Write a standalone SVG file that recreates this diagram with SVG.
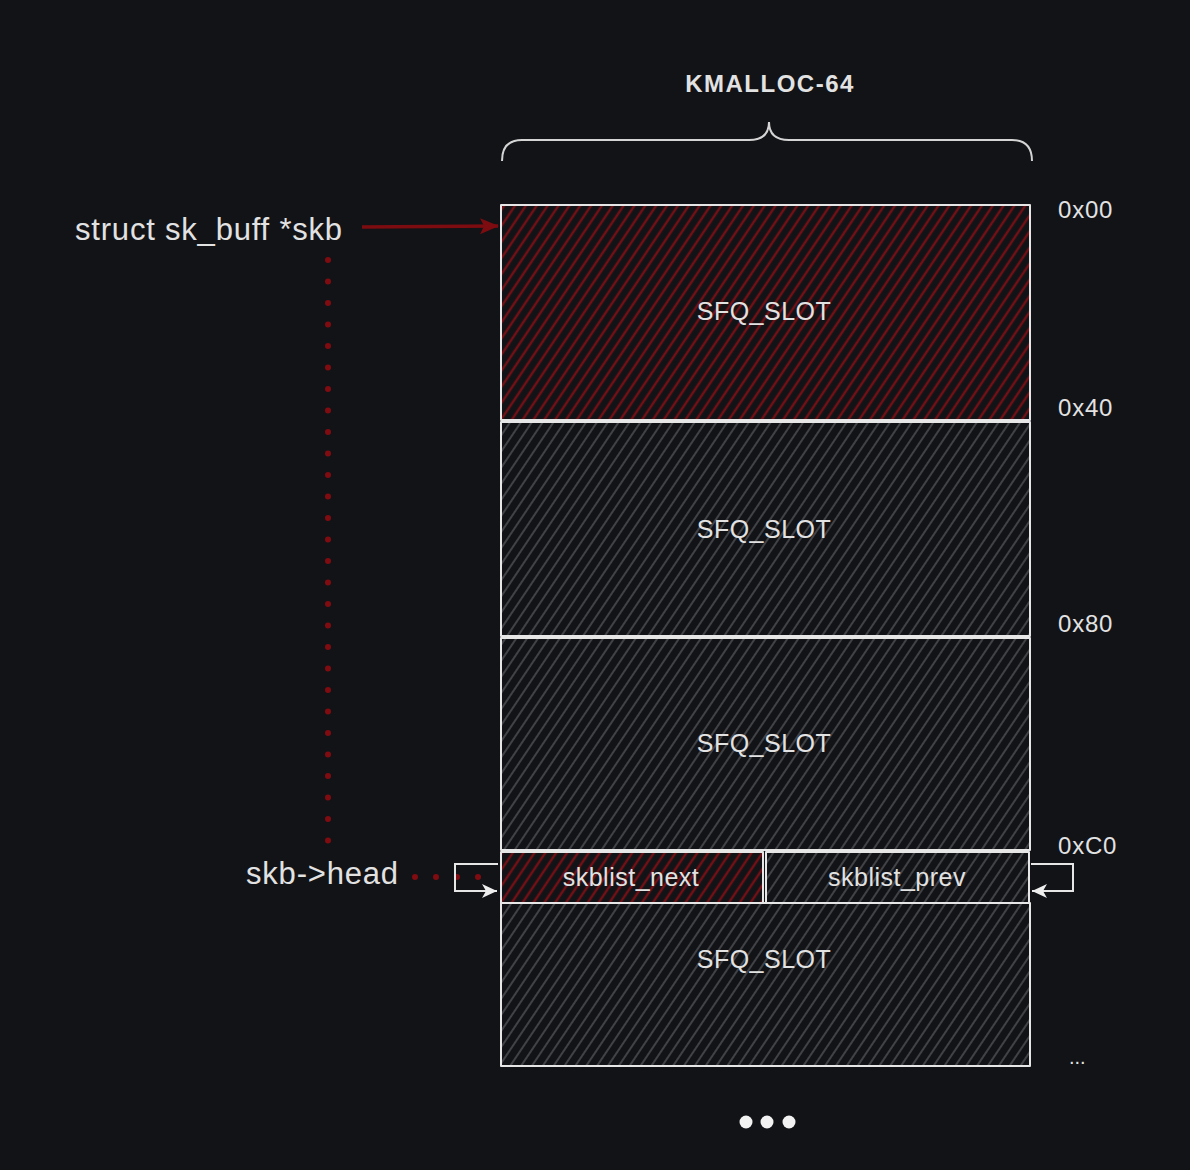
<svg xmlns="http://www.w3.org/2000/svg" width="1190" height="1170" viewBox="0 0 1190 1170">
<defs>
<style>
.t{font-family:"Liberation Sans",Arial,sans-serif;fill:#e2e2e2}
.slot{stroke:#e6e6e6;stroke-width:2;stroke-linejoin:round}
.lbl{font-size:25px;letter-spacing:0.5px;text-anchor:middle}
.off{font-size:24px;letter-spacing:0.8px}
.big{font-size:31px;letter-spacing:0.8px}
.red{fill:url(#hr)}
.gray{fill:url(#hg)}
</style>
<pattern id="hr" width="9" height="9" patternUnits="userSpaceOnUse" patternTransform="rotate(34)">
<line x1="2" y1="0" x2="2" y2="9" stroke="#741015" stroke-width="2.4"/>
</pattern>
<pattern id="hg" width="9" height="9" patternUnits="userSpaceOnUse" patternTransform="rotate(34)">
<line x1="2" y1="0" x2="2" y2="9" stroke="#46474a" stroke-width="1.8"/>
</pattern>
<marker id="ar" viewBox="0 0 20 20" refX="18" refY="10" markerWidth="20" markerHeight="20" markerUnits="userSpaceOnUse" orient="auto">
<path d="M0,2 L19,10 L0,18 L4,10 Z" fill="#7d0c10"/>
</marker>
<marker id="aw" viewBox="0 0 16 16" refX="15" refY="8" markerWidth="16" markerHeight="16" markerUnits="userSpaceOnUse" orient="auto">
<path d="M0,1 L15,8 L0,15 L4,8 Z" fill="#eeeeee"/>
</marker>
</defs>
<rect width="1190" height="1170" fill="#121317"/>

<g id="title">
<text class="t" x="770" y="92" font-size="24" font-weight="bold" letter-spacing="1.5" text-anchor="middle">KMALLOC-64</text>
<path d="M502,161 Q502,140 522,140 L749,140 Q769,140 769,122 Q769,140 789,140 L1012,140 Q1032,140 1032,161" fill="none" stroke="#d4d4d4" stroke-width="2"/>
</g>

<g id="slot0">
<rect class="slot red" x="501" y="205" width="529" height="215"/>
<text class="t lbl" x="764" y="320">SFQ_SLOT</text>
</g>
<g id="slot1">
<rect class="slot gray" x="501" y="422" width="529" height="214"/>
<text class="t lbl" x="764" y="538">SFQ_SLOT</text>
</g>
<g id="slot2">
<rect class="slot gray" x="501" y="638" width="529" height="212"/>
<text class="t lbl" x="764" y="752">SFQ_SLOT</text>
</g>
<g id="skblist_next">
<rect class="slot red" x="501" y="852" width="262" height="51"/>
<text class="t lbl" x="631" y="886" font-size="24">skblist_next</text>
</g>
<g id="skblist_prev">
<rect class="slot gray" x="766" y="852" width="263" height="51"/>
<text class="t lbl" x="897" y="886" font-size="24">skblist_prev</text>
</g>
<g id="slot4">
<rect class="slot gray" x="501" y="903" width="529" height="163"/>
<text class="t lbl" x="764" y="968">SFQ_SLOT</text>
</g>

<g id="offsets">
<text class="t off" x="1058" y="218">0x00</text>
<text class="t off" x="1058" y="416">0x40</text>
<text class="t off" x="1058" y="632">0x80</text>
<text class="t off" x="1058" y="854">0xC0</text>
<text class="t" x="1069" y="1064" font-size="20" fill="#bbbbbb">...</text>
</g>

<g id="skb">
<text class="t big" x="75" y="240">struct sk_buff *skb</text>
</g>
<g id="skb_head">
<text class="t big" x="246" y="884">skb-&gt;head</text>
</g>

<g id="more">
<circle cx="746" cy="1122" r="6.5" fill="#f2f2f2"/>
<circle cx="767" cy="1122" r="6.5" fill="#f2f2f2"/>
<circle cx="789" cy="1122" r="6.5" fill="#f2f2f2"/>
</g>

<g id="connectors" fill="none">
<path d="M362,227 L498,226" stroke="#7d0c10" stroke-width="3.5" marker-end="url(#ar)"/>
<path d="M328,260 L328,852" stroke="#800c11" stroke-width="6" stroke-linecap="round" stroke-dasharray="0 21.5"/>
<path d="M415,877 L495,877" stroke="#800c11" stroke-width="6" stroke-linecap="round" stroke-dasharray="0 21"/>
<path d="M498,864 L455,864 L455,891 L497,891" stroke="#e6e6e6" stroke-width="2" marker-end="url(#aw)"/>
<path d="M1031,864 L1073,864 L1073,891 L1032,891" stroke="#e6e6e6" stroke-width="2" marker-end="url(#aw)"/>
</g>
</svg>
